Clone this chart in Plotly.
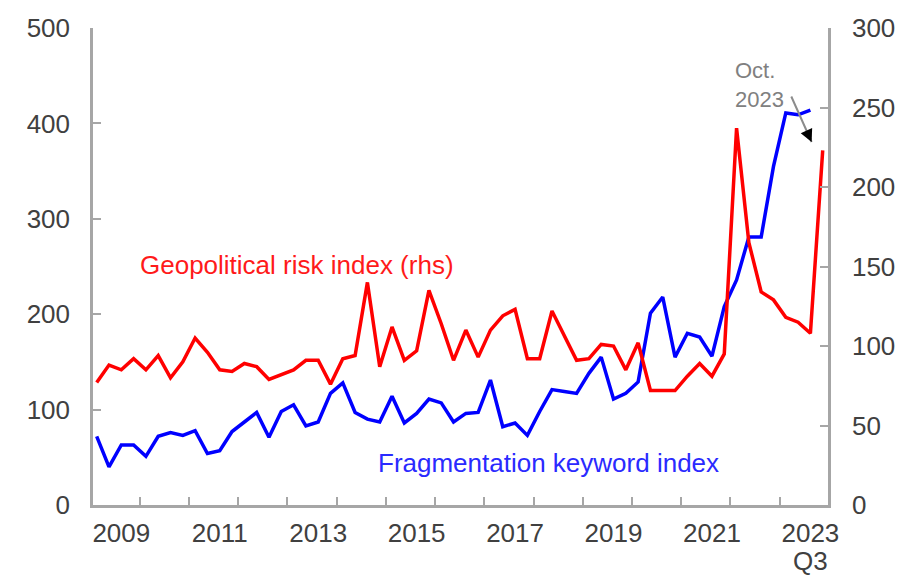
import plotly.graph_objects as go

# Quarterly index positions: 0 = 2009Q1 ... 58 = 2023Q3, 59 = Oct. 2023
fragmentation = [72, 40, 63, 63, 51, 72, 76, 73, 78, 54, 57, 77, 87, 97, 71, 98,
                 105, 83, 87, 117, 128, 97, 90, 87, 114, 86, 96, 111, 107, 87, 96, 97,
                 131, 82, 86, 73, 98, 121, 119, 117, 138, 155, 111, 117, 129, 201, 218, 155,
                 180, 176, 156, 208, 236, 281, 281, 355, 411, 409, 414]
geopolitical = [77, 88, 85, 92, 85, 94, 80, 90, 105, 96, 85, 84, 89, 87, 79, 82,
                85, 91, 91, 76, 92, 94, 140, 87, 112, 91, 97, 135, 114, 91, 110, 93,
                110, 119, 123, 92, 92, 122, 106, 91, 92, 101, 100, 85, 102, 72, 72, 72,
                81, 89, 81, 95, 237, 165, 134, 129, 118, 115, 108, 223]
tick_labels = ["2009", "2011", "2013", "2015", "2017", "2019", "2021", "2023"]
tick_label_pos = [2, 10, 18, 26, 34, 42, 50, 58]
last_quarter_label = "Q3"
year_boundaries = [3.5 + 4 * k for k in range(14)]

x_blue = list(range(len(fragmentation)))
x_red = list(range(len(geopolitical)))

AXIS_GRAY = "#a6a6a6"
FONT = "Liberation Sans, Arial, sans-serif"
TICK_FONT = dict(family=FONT, size=26, color="#404040")

fig = go.Figure()
fig.add_trace(go.Scatter(x=x_red, y=geopolitical, mode="lines", yaxis="y2",
                         line=dict(color="#ff0000", width=3.5), showlegend=False))
fig.add_trace(go.Scatter(x=x_blue, y=fragmentation, mode="lines",
                         line=dict(color="#0000ff", width=3.5), showlegend=False))

# page body has an 8px default margin, so the figure is sized to fill the rest
fig.update_layout(
    width=897, height=572,
    margin=dict(l=85, r=77, t=20, b=75),
    paper_bgcolor="white", plot_bgcolor="white",
    xaxis=dict(range=[-0.3, 59.43], tickmode="array", tickvals=tick_label_pos,
               ticktext=tick_labels, ticks="", showline=True, linecolor=AXIS_GRAY,
               linewidth=2.5, showgrid=False, zeroline=False, tickfont=TICK_FONT,
               ticklabelstandoff=3, automargin=False,
               minor=dict(tickmode="array", tickvals=year_boundaries, ticks="inside",
                          ticklen=8, tickwidth=2, tickcolor=AXIS_GRAY)),
    yaxis=dict(range=[0, 500], tickvals=[0, 100, 200, 300, 400, 500], ticks="inside",
               ticklen=8, tickwidth=2, tickcolor=AXIS_GRAY, showline=True,
               linecolor=AXIS_GRAY, linewidth=2.5, showgrid=False, zeroline=False,
               tickfont=TICK_FONT, ticklabelstandoff=15, automargin=False),
    yaxis2=dict(range=[0, 300], tickvals=[0, 50, 100, 150, 200, 250, 300],
                overlaying="y", side="right", anchor="x", ticks="inside",
                ticklen=8, tickwidth=2, tickcolor=AXIS_GRAY, showline=True,
                linecolor=AXIS_GRAY, linewidth=2.5, showgrid=False, zeroline=False,
                tickfont=TICK_FONT, ticklabelstandoff=16, automargin=False),
    annotations=[
        dict(x=tick_label_pos[-1], y=0, xref="x", yref="paper", text=last_quarter_label,
             showarrow=False, xanchor="center", yanchor="bottom", yshift=-73,
             font=TICK_FONT),
        dict(x=16.27, y=251.6, xref="x", yref="y", text="Geopolitical risk index (rhs)",
             showarrow=False, font=dict(family=FONT, size=26, color="#ff1a1a"),
             xanchor="center", yanchor="middle"),
        dict(x=36.74, y=44.5, xref="x", yref="y", text="Fragmentation keyword index",
             showarrow=False, font=dict(family=FONT, size=26, color="#2a2aff"),
             xanchor="center", yanchor="middle"),
        dict(x=51.7, y=264, xref="x", yref="y2", text="Oct.<br>2023", showarrow=False,
             align="left", xanchor="left", yanchor="middle",
             font=dict(family=FONT, size=22, color="#808080")),
        dict(x=58.1, y=228.3, xref="x", yref="y2", text="", showarrow=True,
             ax=-21, ay=-47, arrowhead=0, arrowwidth=2, arrowcolor="#8c8c8c"),
        dict(x=58.1, y=228.3, xref="x", yref="y2", text="", showarrow=True,
             ax=-5, ay=-11, arrowhead=2, arrowsize=1, arrowwidth=2.5,
             arrowcolor="#000000"),
    ],
)

fig.write_html("out.html")
